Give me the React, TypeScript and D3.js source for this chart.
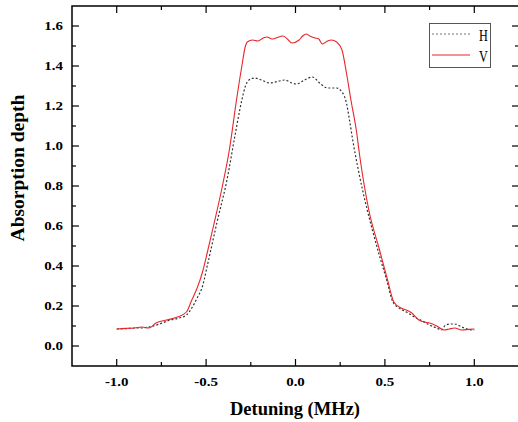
import React from 'react';
import * as d3 from 'd3';

// detuning (MHz), absorption depth
const hSeries: [number, number][] = [
  [-1.0, 0.085], [-0.95, 0.087], [-0.9, 0.09], [-0.86, 0.09], [-0.82, 0.095], [-0.76, 0.11],
  [-0.7, 0.13], [-0.65, 0.14], [-0.61, 0.155], [-0.58, 0.19], [-0.55, 0.24], [-0.52, 0.3],
  [-0.49, 0.415], [-0.44, 0.615], [-0.38, 0.845], [-0.34, 1.045], [-0.3, 1.23], [-0.28, 1.3],
  [-0.26, 1.33], [-0.23, 1.34], [-0.19, 1.33], [-0.145, 1.315], [-0.09, 1.325], [-0.06, 1.33],
  [-0.02, 1.315], [0.005, 1.31], [0.05, 1.33], [0.095, 1.345], [0.135, 1.315], [0.18, 1.29],
  [0.23, 1.29], [0.26, 1.27], [0.285, 1.215], [0.3, 1.14], [0.32, 1.03], [0.375, 0.78],
  [0.43, 0.58], [0.47, 0.45], [0.51, 0.33], [0.545, 0.22], [0.58, 0.19], [0.62, 0.17],
  [0.675, 0.14], [0.71, 0.125], [0.75, 0.105], [0.79, 0.09], [0.815, 0.08], [0.84, 0.105],
  [0.87, 0.11], [0.89, 0.11], [0.93, 0.095], [0.96, 0.085], [1.0, 0.08],
];

const vSeries: [number, number][] = [
  [-1.0, 0.085], [-0.95, 0.088], [-0.9, 0.09], [-0.86, 0.095], [-0.82, 0.09], [-0.78, 0.115],
  [-0.72, 0.13], [-0.66, 0.145], [-0.61, 0.17], [-0.58, 0.23], [-0.55, 0.29], [-0.52, 0.37],
  [-0.49, 0.48], [-0.46, 0.595], [-0.41, 0.795], [-0.37, 0.98], [-0.33, 1.23], [-0.3, 1.4],
  [-0.28, 1.5], [-0.27, 1.52], [-0.24, 1.53], [-0.21, 1.525], [-0.18, 1.54], [-0.16, 1.545],
  [-0.13, 1.535], [-0.11, 1.54], [-0.07, 1.55], [-0.04, 1.53], [-0.02, 1.515], [0.02, 1.53],
  [0.04, 1.55], [0.06, 1.56], [0.08, 1.55], [0.11, 1.54], [0.13, 1.535], [0.15, 1.51],
  [0.18, 1.525], [0.2, 1.53], [0.23, 1.52], [0.26, 1.48], [0.285, 1.365], [0.31, 1.23],
  [0.34, 1.08], [0.36, 0.945], [0.41, 0.68], [0.47, 0.48], [0.515, 0.33], [0.55, 0.22],
  [0.59, 0.19], [0.62, 0.18], [0.65, 0.165], [0.69, 0.13], [0.72, 0.12], [0.75, 0.115],
  [0.79, 0.1], [0.83, 0.08], [0.86, 0.085], [0.89, 0.09], [0.93, 0.08], [0.97, 0.083], [1.0, 0.085],
];

const xMajor = [-1.0, -0.5, 0.0, 0.5, 1.0];
const xMinor = [-0.75, -0.25, 0.25, 0.75];
const yMajor = [0.0, 0.2, 0.4, 0.6, 0.8, 1.0, 1.2, 1.4, 1.6];
const yMinor = [0.1, 0.3, 0.5, 0.7, 0.9, 1.1, 1.3, 1.5];

const W = 518;
const H = 422;
const left = 72, right = 519, top = 6, bottom = 366;
const serif = '"Liberation Serif", "Times New Roman", serif';

export default function App() {
  const x = d3.scaleLinear().domain([-1.25, 1.25]).range([left, right]);
  const y = d3.scaleLinear().domain([-0.1, 1.7]).range([bottom, top]);
  const line = d3.line<[number, number]>()
    .x(d => x(d[0]))
    .y(d => y(d[1]))
    .curve(d3.curveMonotoneX);

  return (
    <svg width={W} height={H} style={{ position: 'absolute', left: 0, top: 0 }} fontFamily={serif}>
      <rect width={W} height={H} fill="#fff" />
      {/* curves */}
      <path d={line(hSeries) ?? ''} fill="none" stroke="#333" strokeWidth={1.2} strokeDasharray="2,2" />
      <path d={line(vSeries) ?? ''} fill="none" stroke="#e8262a" strokeWidth={1.1} />

      {/* frame */}
      <rect x={left} y={top} width={right - left} height={bottom - top} fill="none" stroke="#000" strokeWidth={1.5} />

      {/* x ticks, inward on bottom and top */}
      {xMajor.map(v => (
        <g key={'xM' + v}>
          <line x1={x(v)} x2={x(v)} y1={bottom} y2={bottom - 7} stroke="#000" strokeWidth={1.2} />
          <line x1={x(v)} x2={x(v)} y1={top} y2={top + 7} stroke="#000" strokeWidth={1.2} />
          <text transform={`translate(${x(v)},${386}) scale(1.3,1)`} textAnchor="middle"
            fontSize={11.5} fontWeight="bold">{v.toFixed(1)}</text>
        </g>
      ))}
      {xMinor.map(v => (
        <g key={'xm' + v}>
          <line x1={x(v)} x2={x(v)} y1={bottom} y2={bottom - 4} stroke="#000" strokeWidth={1.2} />
          <line x1={x(v)} x2={x(v)} y1={top} y2={top + 4} stroke="#000" strokeWidth={1.2} />
        </g>
      ))}

      {/* y ticks, inward on left and right */}
      {yMajor.map(v => (
        <g key={'yM' + v}>
          <line x1={left} x2={left + 7} y1={y(v)} y2={y(v)} stroke="#000" strokeWidth={1.2} />
          <line x1={right} x2={right - 7} y1={y(v)} y2={y(v)} stroke="#000" strokeWidth={1.2} />
          <text transform={`translate(${63},${y(v) + 4}) scale(1.3,1)`} textAnchor="end"
            fontSize={11.5} fontWeight="bold">{v.toFixed(1)}</text>
        </g>
      ))}
      {yMinor.map(v => (
        <g key={'ym' + v}>
          <line x1={left} x2={left + 4} y1={y(v)} y2={y(v)} stroke="#000" strokeWidth={1.2} />
          <line x1={right} x2={right - 4} y1={y(v)} y2={y(v)} stroke="#000" strokeWidth={1.2} />
        </g>
      ))}

      {/* axis titles */}
      <text x={(left + right) / 2 - 0.5} y={415} textAnchor="middle" fontSize={18.5} fontWeight="bold">
        Detuning (MHz)
      </text>
      <text transform={`translate(24,168) rotate(-90)`} textAnchor="middle" fontSize={19.5} fontWeight="bold">
        Absorption depth
      </text>

      {/* legend */}
      <rect x={429.5} y={23.5} width={61} height={44} fill="#fff" stroke="#555" strokeWidth={1} />
      <line x1={432} x2={470} y1={34} y2={34} stroke="#777" strokeWidth={1.2} strokeDasharray="2,2" />
      <line x1={432} x2={470} y1={55} y2={55} stroke="#e8262a" strokeWidth={1.2} />
      <text transform="translate(479,41) scale(0.72,1)" fontSize={17}>H</text>
      <text transform="translate(479,62) scale(0.72,1)" fontSize={17}>V</text>
    </svg>
  );
}
